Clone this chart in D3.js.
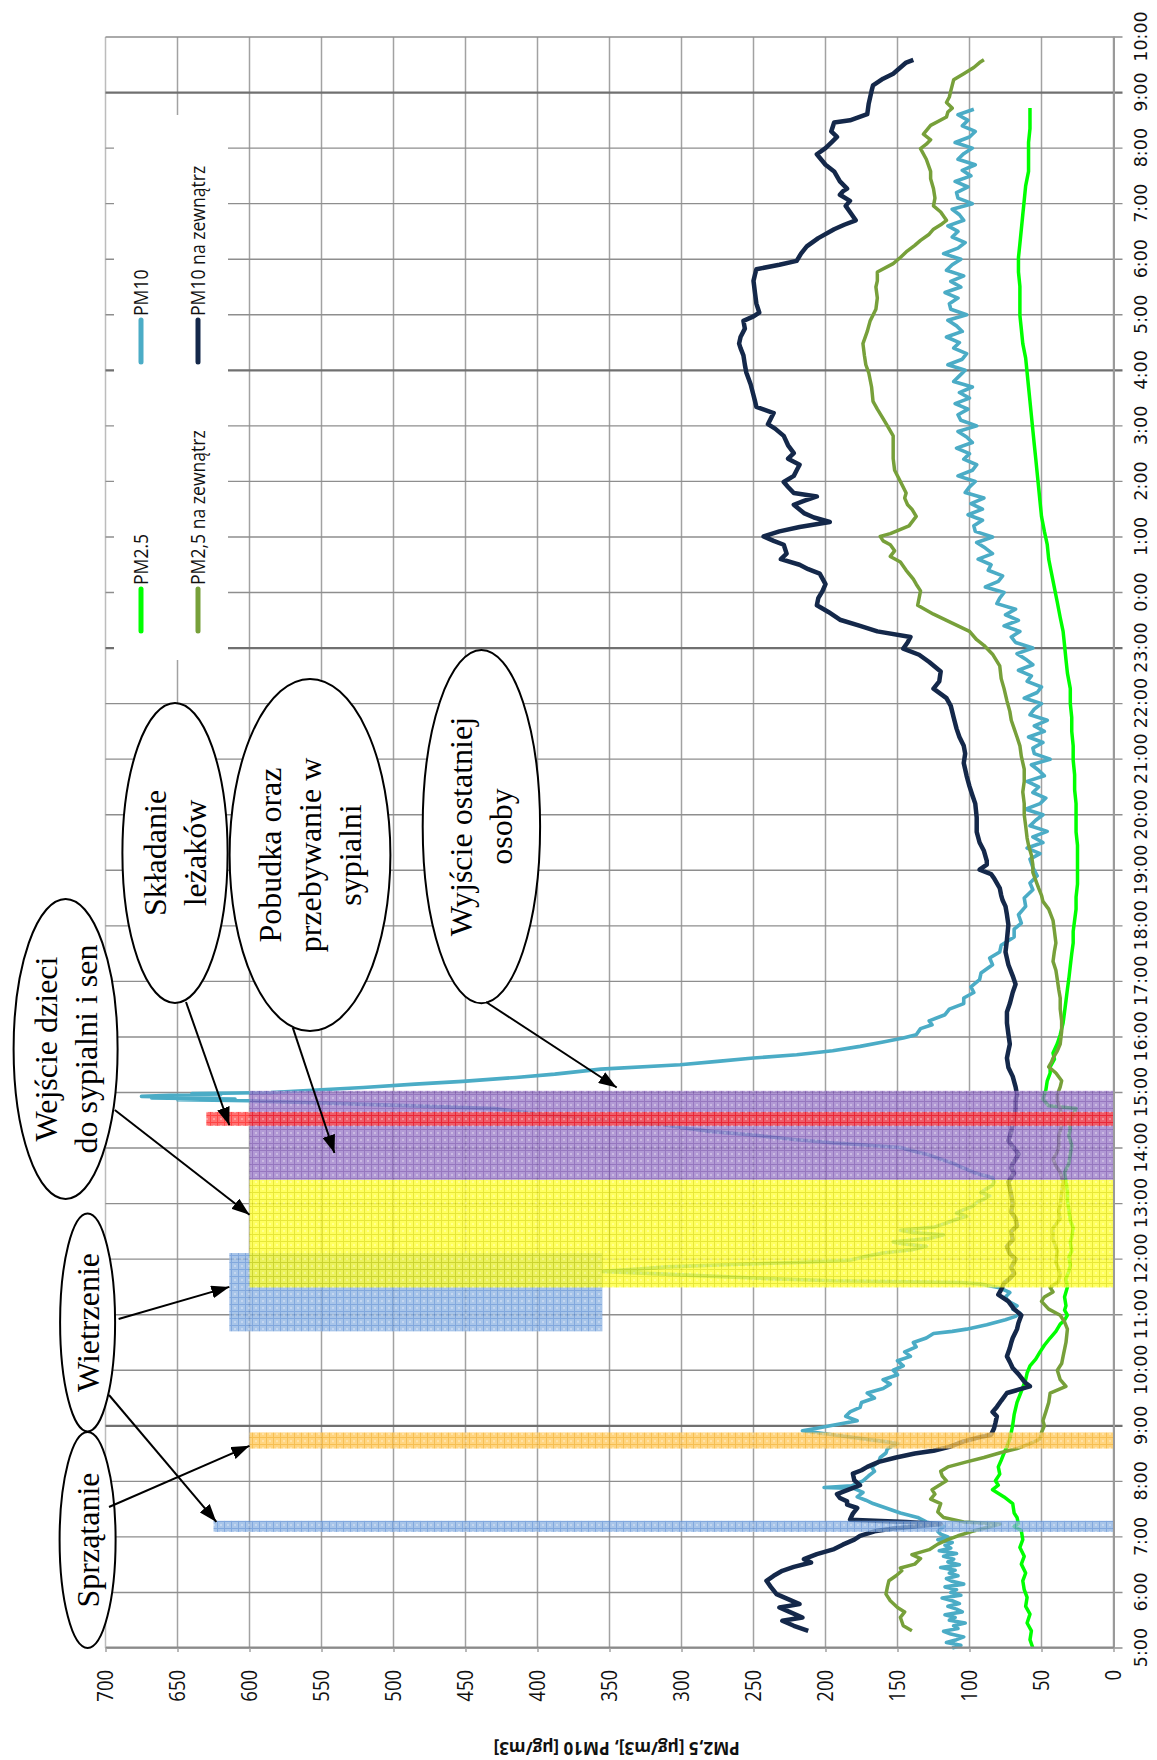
<!DOCTYPE html>
<html>
<head>
<meta charset="utf-8">
<script src="https://cdn.jsdelivr.net/npm/d3@7"></script>
<style>
  body { margin: 0; background: #fff; }
</style>
</head>
<body>
<div id="chart"></div>
<script>
// readings: [clock hour (24+ = next day), µg/m3]
var pm25 = [[5.0,56],[5.15,58],[5.31,57],[5.45,60],[5.61,58],[5.75,61],[5.91,60],[6.05,62],[6.21,63],[6.35,61],[6.51,64],[6.65,62],[6.81,65],[6.95,63],[7.11,64],[7.19,69],[7.23,66],[7.35,67],[7.43,69],[7.6,70],[7.72,76],[7.85,84],[7.93,80],[8.01,82],[8.13,79],[8.26,80],[8.38,78],[8.51,76],[8.63,74],[8.76,72],[8.88,71],[9.01,70],[9.2,69],[9.42,67],[9.62,64],[9.83,61],[9.95,60],[10.08,58],[10.2,54],[10.33,51],[10.45,48],[10.58,44],[10.7,40],[10.83,37],[10.9,34],[10.99,32],[11.08,34],[11.16,33],[11.32,34],[11.5,32],[11.65,33],[11.78,31],[11.9,30],[12.03,31],[12.15,29],[12.3,30],[12.4,29],[12.56,28],[12.7,30],[12.89,31],[13.05,32],[13.22,32],[13.4,33],[13.56,34],[13.72,31],[13.89,30],[14.05,29],[14.22,31],[14.35,30],[14.47,31],[14.6,28],[14.71,26],[14.76,45],[14.88,49],[15.04,47],[15.21,46],[15.35,44],[15.46,44],[15.6,41],[15.71,42],[15.88,39],[16.04,37],[16.25,35],[16.45,34],[16.65,33],[16.86,32],[17.05,31],[17.28,30],[17.5,29],[17.69,28],[17.9,28],[18.1,27],[18.3,26],[18.52,26],[18.75,25],[18.93,25],[19.17,25],[19.45,25],[19.69,26],[19.95,26],[20.2,26],[20.45,27],[20.72,27],[20.98,28],[21.24,28],[21.5,29],[21.75,29],[22.0,30],[22.27,30],[22.55,32],[22.79,33],[23.05,34],[23.3,35],[23.55,37],[23.82,39],[24.08,41],[24.34,43],[24.6,45],[24.86,46],[25.1,48],[25.37,50],[25.63,51],[25.89,52],[26.15,53],[26.41,54],[26.66,55],[26.92,56],[27.18,57],[27.44,58],[27.7,59],[27.96,60],[28.22,61],[28.48,63],[28.74,64],[28.99,65],[29.25,65],[29.51,65],[29.77,66],[30.03,66],[30.28,65],[30.54,64],[30.8,63],[31.06,62],[31.32,61],[31.58,59],[31.84,59],[32.1,59],[32.35,58],[32.61,58],[32.72,58]];

var pm10 = [[5.0,112],[5.05,106],[5.1,116],[5.15,109],[5.2,104],[5.25,113],[5.3,118],[5.35,108],[5.4,111],[5.45,103],[5.5,114],[5.55,110],[5.6,117],[5.65,105],[5.7,109],[5.75,115],[5.8,107],[5.85,112],[5.9,119],[5.95,106],[6.0,113],[6.05,109],[6.1,117],[6.15,104],[6.2,112],[6.25,116],[6.3,108],[6.35,114],[6.4,110],[6.45,120],[6.5,107],[6.55,115],[6.6,111],[6.65,118],[6.7,109],[6.75,121],[6.8,113],[6.85,117],[6.9,112],[6.95,122],[7.0,115],[7.05,120],[7.1,122],[7.19,118],[7.27,130],[7.35,136],[7.43,148],[7.52,158],[7.6,167],[7.66,172],[7.72,178],[7.8,174],[7.87,180],[7.89,201],[7.92,182],[8.01,174],[8.1,170],[8.18,166],[8.26,168],[8.35,163],[8.43,162],[8.51,158],[8.59,157],[8.68,150],[8.72,160],[8.76,172],[8.84,195],[8.91,216],[8.96,205],[9.01,195],[9.09,178],[9.17,186],[9.25,183],[9.33,176],[9.42,175],[9.5,166],[9.59,171],[9.67,160],[9.75,155],[9.83,160],[9.92,150],[10.0,153],[10.08,146],[10.17,150],[10.25,141],[10.33,145],[10.42,137],[10.5,139],[10.58,130],[10.66,125],[10.7,112],[10.74,102],[10.82,88],[10.91,75],[10.97,68],[11.03,65],[11.1,70],[11.16,67],[11.24,73],[11.32,75],[11.4,72],[11.49,80],[11.55,92],[11.58,105],[11.61,195],[11.66,250],[11.69,276],[11.74,320],[11.78,355],[11.82,330],[11.86,310],[11.9,270],[11.94,220],[11.98,183],[12.05,172],[12.11,160],[12.17,140],[12.23,130],[12.28,148],[12.31,153],[12.37,128],[12.44,118],[12.48,140],[12.52,148],[12.58,124],[12.65,116],[12.71,110],[12.77,102],[12.83,109],[12.89,104],[12.95,98],[13.02,95],[13.08,90],[13.14,86],[13.2,92],[13.27,88],[13.33,84],[13.39,83],[13.47,84],[13.52,92],[13.56,97],[13.64,104],[13.72,111],[13.8,120],[13.89,130],[13.95,140],[14.01,148],[14.05,170],[14.09,194],[14.15,220],[14.22,245],[14.3,280],[14.36,298],[14.42,312],[14.51,356],[14.6,395],[14.71,430],[14.8,534],[14.85,600],[14.87,650],[14.88,610],[14.9,668],[14.91,640],[14.93,675],[14.95,655],[14.96,620],[14.98,640],[15.0,585],[15.05,550],[15.09,521],[15.15,485],[15.2,452],[15.27,415],[15.33,388],[15.42,356],[15.5,301],[15.56,275],[15.62,250],[15.68,220],[15.75,195],[15.83,176],[15.91,160],[15.98,146],[16.04,137],[16.15,134],[16.22,126],[16.29,128],[16.4,117],[16.5,114],[16.6,104],[16.7,104],[16.8,97],[16.9,99],[17.03,93],[17.15,92],[17.3,84],[17.42,86],[17.53,79],[17.65,78],[17.8,69],[17.94,69],[18.05,64],[18.2,66],[18.35,61],[18.5,62],[18.65,56],[18.77,58],[18.9,53],[19.05,56]];

// PM10 overnight, logged every 6 minutes from 19:12
var pm10NightStart = 19.2, pm10NightStep = 0.1;
var pm10Night = [58,51,60,49,56,46,58,54,49,61,51,47,56,52,60,48,52,57,44,55,56,49,59,48,55,46,58,55,50,62,53,50,60,57,66,56,61,67,56,68,71,65,76,66,75,68,81,79,76,89,80,77,87,85,94,84,89,95,84,96,97,91,101,91,99,90,103,100,96,108,98,95,104,100,109,98,102,108,95,106,108,101,110,100,107,98,111,107,103,115,105,102,111,107,116,105,109,115,102,113,114,108,117,106,113,104,116,112,106,118,108,103,112,108,115,104,107,112,98,108,109,101,110,99,105,96,108,104,98,110,100,96,105,101,108,97];

var pm25Out = [[5.31,140],[5.4,146],[5.55,148],[5.65,145],[5.73,150],[5.85,155],[5.97,158],[6.1,157],[6.21,156],[6.3,151],[6.39,147],[6.44,148],[6.51,138],[6.61,134],[6.68,140],[6.77,128],[6.87,122],[6.94,116],[7.02,108],[7.1,98],[7.17,88],[7.23,79],[7.27,104],[7.35,118],[7.45,122],[7.6,120],[7.68,127],[7.77,124],[7.85,126],[8.01,116],[8.1,119],[8.18,120],[8.26,115],[8.35,102],[8.43,90],[8.52,78],[8.59,67],[8.68,58],[8.76,51],[8.88,50],[9.0,48],[9.09,49],[9.25,47],[9.42,45],[9.59,44],[9.71,33],[9.83,37],[10.0,39],[10.12,36],[10.25,35],[10.5,33],[10.74,32],[10.87,34],[10.99,37],[11.1,45],[11.24,50],[11.32,48],[11.41,42],[11.49,44],[11.6,38],[11.74,37],[11.95,40],[12.15,39],[12.35,42],[12.56,42],[12.73,37],[12.85,38],[12.98,37],[13.2,36],[13.39,35],[13.56,37],[13.68,40],[13.8,42],[13.93,39],[14.05,38],[14.22,38],[14.4,36],[14.55,36],[14.71,37],[14.85,39],[14.96,39],[15.1,37],[15.21,36],[15.35,40],[15.46,45],[15.55,43],[15.62,42],[15.75,39],[15.87,37],[16.1,36],[16.29,36],[16.5,37],[16.7,37],[16.85,38],[17.03,39],[17.2,40],[17.36,42],[17.55,41],[17.69,40],[17.9,41],[18.1,42],[18.3,45],[18.44,49],[18.55,50],[18.68,52],[18.82,54],[18.96,56],[19.1,56],[19.27,57],[19.45,59],[19.58,60],[19.8,61],[20.0,62],[20.2,62],[20.41,63],[20.6,62],[20.82,62],[21.05,64],[21.24,65],[21.4,67],[21.55,69],[21.7,71],[21.86,72],[22.05,74],[22.27,76],[22.45,78],[22.68,79],[22.89,84],[23.05,90],[23.15,95],[23.3,100],[23.45,112],[23.61,125],[23.77,136],[23.9,135],[24.03,134],[24.15,137],[24.24,139],[24.4,144],[24.55,148],[24.65,155],[24.75,152],[24.86,155],[24.93,160],[25.01,162],[25.06,155],[25.2,142],[25.37,137],[25.5,140],[25.58,143],[25.7,145],[25.79,144],[26.0,148],[26.2,152],[26.41,153],[26.6,153],[26.82,153],[27.0,157],[27.13,160],[27.3,164],[27.44,167],[27.7,168],[27.96,170],[28.1,172],[28.27,173],[28.48,174],[28.7,171],[28.89,169],[29.1,165],[29.3,164],[29.5,165],[29.61,164],[29.77,164],[29.92,153],[30.03,148],[30.13,144],[30.25,138],[30.34,134],[30.45,128],[30.54,125],[30.62,120],[30.7,116],[30.85,120],[30.96,125],[31.1,124],[31.27,125],[31.45,127],[31.58,127],[31.8,130],[31.99,134],[32.07,130],[32.15,127],[32.25,132],[32.41,127],[32.56,116],[32.65,115],[32.72,112],[32.82,116],[32.92,114],[33.03,113],[33.13,112],[33.23,111],[33.34,104],[33.45,97],[33.54,93],[33.59,90]];

var pm10Out = [[5.31,212],[5.4,222],[5.49,230],[5.55,216],[5.65,225],[5.73,232],[5.79,218],[5.88,226],[5.97,234],[6.1,238],[6.21,241],[6.3,236],[6.39,230],[6.46,222],[6.54,210],[6.6,215],[6.69,206],[6.78,194],[6.86,188],[6.95,180],[7.02,176],[7.1,166],[7.15,153],[7.23,120],[7.27,144],[7.31,183],[7.42,181],[7.52,178],[7.58,185],[7.64,185],[7.7,190],[7.77,192],[7.85,184],[7.93,176],[8.02,180],[8.14,181],[8.2,175],[8.26,171],[8.35,163],[8.43,151],[8.5,138],[8.55,125],[8.62,114],[8.72,104],[8.8,92],[8.84,85],[8.95,83],[9.05,82],[9.17,81],[9.25,84],[9.34,81],[9.45,78],[9.59,74],[9.65,66],[9.71,58],[9.77,61],[9.83,63],[9.93,66],[10.04,70],[10.15,72],[10.25,74],[10.4,72],[10.5,71],[10.58,70],[10.74,67],[10.85,66],[10.99,64],[11.1,69],[11.24,73],[11.36,80],[11.45,78],[11.57,76],[11.65,72],[11.74,69],[11.85,71],[12.0,68],[12.1,72],[12.23,74],[12.35,70],[12.5,71],[12.6,67],[12.73,68],[12.85,71],[13.0,70],[13.15,71],[13.28,72],[13.39,73],[13.47,71],[13.55,69],[13.64,71],[13.72,70],[13.8,68],[13.89,66],[14.0,69],[14.13,73],[14.3,71],[14.45,70],[14.55,69],[14.7,68],[14.85,68],[14.96,67],[15.1,68],[15.29,70],[15.45,73],[15.62,74],[15.75,73],[15.87,72],[16.05,73],[16.25,74],[16.45,74],[16.6,72],[16.8,70],[16.95,68],[17.1,70],[17.3,73],[17.53,75],[17.75,74],[18.02,73],[18.2,74],[18.35,75],[18.46,77],[18.55,78],[18.68,79],[18.86,83],[18.93,85],[19.01,93],[19.1,88],[19.17,88],[19.35,90],[19.5,93],[19.69,95],[19.95,95],[20.2,96],[20.35,98],[20.51,100],[20.7,102],[20.93,104],[21.1,103],[21.24,104],[21.4,107],[21.55,109],[21.75,111],[21.96,113],[22.1,116],[22.27,125],[22.4,121],[22.58,120],[22.75,128],[22.88,135],[22.99,146],[23.1,143],[23.2,141],[23.3,164],[23.4,176],[23.51,190],[23.65,198],[23.77,206],[23.9,205],[24.03,202],[24.15,200],[24.34,204],[24.42,212],[24.5,218],[24.6,231],[24.7,227],[24.86,229],[24.93,236],[25.01,243],[25.1,232],[25.18,218],[25.27,197],[25.35,208],[25.43,215],[25.58,222],[25.65,215],[25.73,206],[25.79,222],[25.9,226],[25.99,229],[26.1,222],[26.2,220],[26.3,218],[26.41,226],[26.51,222],[26.65,226],[26.82,229],[26.95,235],[27.03,240],[27.13,238],[27.23,236],[27.34,248],[27.45,249],[27.55,250],[27.75,252],[27.96,255],[28.1,256],[28.27,257],[28.4,259],[28.48,260],[28.6,259],[28.75,256],[28.89,257],[28.97,250],[29.04,246],[29.2,248],[29.4,249],[29.61,250],[29.72,249],[29.82,248],[29.9,232],[29.97,220],[30.1,217],[30.23,213],[30.38,205],[30.54,194],[30.62,187],[30.7,179],[30.85,183],[30.96,186],[31.05,183],[31.16,190],[31.22,188],[31.27,185],[31.4,190],[31.58,194],[31.7,200],[31.89,206],[32.0,200],[32.1,196],[32.2,192],[32.3,196],[32.46,194],[32.5,183],[32.61,171],[32.8,170],[33.03,168],[33.13,167],[33.25,160],[33.34,153],[33.45,148],[33.54,144],[33.59,139]];

var seriesNames = ['PM2.5', 'PM10', 'PM2,5 na zewnątrz', 'PM10 na zewnątrz'];

// shaded periods (clock hours) and their reach on the value axis
var periodStart = [7.09, 8.59, 10.70, 11.49, 13.43, 14.40];
var periodEnd   = [7.29, 8.88, 12.11, 13.43, 15.03, 14.65];
var periodLow   = [0, 0, 355, 0, 0, 0];
var periodHigh  = [625, 600, 614, 600, 600, 630];

var hourTicks = d3.range(5, 35);
var valueTicks = d3.range(0, 701, 50);
var darkHours = [9, 23, 28, 33];

// callouts and the [hour, value] each arrow points at
var noteText = [['Wejście dzieci', 'do sypialni i sen'], ['Wietrzenie'], ['Sprzątanie'], ['Składanie', 'leżaków'], ['Pobudka oraz', 'przebywanie w', 'sypialni'], ['Wyjście ostatniej', 'osoby']];
var noteTargets = [[[12.8, 600]], [[11.5, 614], [7.27, 623]], [[8.64, 600]], [[14.41, 614]], [[13.91, 541]], [[15.09, 345]]];

var width = 1157, height = 1760;

var svg = d3.select('#chart').append('svg')
    .attr('width', width)
    .attr('height', height)
    .style('background', '#fff');

var defs = svg.append('defs');
var bandColors = [['#8fb4e3', '#5f8fd3'], ['#ffc95c', '#f4ad22'], ['#8fb4e3', '#5f8fd3'], ['#ffff33', '#e0e000'], ['#9c7dc9', '#7850ad'], ['#ff4a4a', '#ff1010']];
bandColors.forEach(function (c, i) {
  var p = defs.append('pattern').attr('id', 'band' + i)
      .attr('width', 7).attr('height', 7).attr('patternUnits', 'userSpaceOnUse');
  p.append('rect').attr('width', 7).attr('height', 7).attr('fill', c[0]);
  p.append('path').attr('d', 'M0,0.5H7M0.5,0V7').attr('stroke', c[1]).attr('stroke-width', 1);
  p.append('circle').attr('cx', 4).attr('cy', 4).attr('r', 0.8).attr('fill', '#fff').attr('opacity', 0.7);
});
defs.append('marker').attr('id', 'arrow')
    .attr('viewBox', '0 0 10 10').attr('refX', 10).attr('refY', 5)
    .attr('markerWidth', 18).attr('markerHeight', 13)
    .attr('markerUnits', 'userSpaceOnUse').attr('orient', 'auto')
    .attr('preserveAspectRatio', 'none')
  .append('path').attr('d', 'M0,0L10,5L0,10z').attr('fill', '#000');

// the chart is laid out landscape and turned a quarter to the left
var chart = svg.append('g').attr('transform', 'translate(0,' + height + ') rotate(-90)');

var x = d3.scaleLinear().domain([5, 34]).range([112, 1723]);
var y = d3.scaleLinear().domain([0, 700]).range([1113.5, 105.5]);

chart.append('g').selectAll('line')
    .data(valueTicks)
    .enter().append('line')
    .attr('x1', x(5)).attr('x2', x(34))
    .attr('y1', d => y(d)).attr('y2', d => y(d))
    .attr('stroke', d => d == 700 ? '#bcbcbc' : '#a2a2a2')
    .attr('stroke-width', 1.5);

chart.append('g').selectAll('line')
    .data(hourTicks)
    .enter().append('line')
    .attr('x1', d => x(d)).attr('x2', d => x(d))
    .attr('y1', y(700)).attr('y2', y(0) + 9)
    .attr('stroke', d => darkHours.indexOf(d) >= 0 ? '#707070' : '#8e8e8e')
    .attr('stroke-width', d => darkHours.indexOf(d) >= 0 ? 2.2 : 1.4);

// legend
var legend = chart.append('g');
legend.append('rect')
    .attr('x', 1100).attr('y', 114).attr('width', 545).attr('height', 114)
    .attr('fill', '#fff');
var lineColors = ['#00ff00', '#4bacc6', '#77a03a', '#14284a'];
seriesNames.forEach(function (name, i) {
  var lx = i % 2 == 0 ? 1129 : 1398, ly = i < 2 ? 141 : 198;
  legend.append('line')
      .attr('x1', lx).attr('x2', lx + 42).attr('y1', ly).attr('y2', ly)
      .attr('stroke', lineColors[i]).attr('stroke-width', 5).attr('stroke-linecap', 'round');
  legend.append('text')
      .attr('transform', 'translate(' + (lx + 46) + ',' + ly + ') scale(0.88,1)')
      .attr('dy', '0.36em')
      .attr('font-family', 'Open Sans').attr('font-size', 20).attr('fill', '#111')
      .text(name);
});

var pm10All = pm10.concat(pm10Night.map((v, i) => [pm10NightStart + i * pm10NightStep, v]));

var line = d3.line().x(d => x(d[0])).y(d => y(d[1]));
var series = [pm10All, pm25, pm25Out, pm10Out];
var seriesColor = ['#4bacc6', '#00ff00', '#77a03a', '#14284a'];
var seriesWidth = [3.6, 3.5, 3.5, 4.5];
chart.append('g').selectAll('path')
    .data(series)
    .enter().append('path')
    .attr('d', line)
    .attr('fill', 'none')
    .attr('stroke', (d, i) => seriesColor[i])
    .attr('stroke-width', (d, i) => seriesWidth[i])
    .attr('stroke-linejoin', 'round');

chart.append('g').selectAll('rect')
    .data(d3.range(periodStart.length))
    .enter().append('rect')
    .attr('x', i => x(periodStart[i]))
    .attr('width', i => x(periodEnd[i]) - x(periodStart[i]))
    .attr('y', i => y(periodHigh[i]))
    .attr('height', i => y(periodLow[i]) - y(periodHigh[i]))
    .attr('fill', i => 'url(#band' + i + ')')
    .attr('opacity', 0.78);

var timeAxis = chart.append('g')
    .attr('transform', 'translate(0,' + y(0) + ')')
    .call(d3.axisBottom(x).tickValues(hourTicks).tickFormat(d => (d % 24) + ':00').tickSize(0).tickPadding(21));
timeAxis.select('.domain').attr('stroke', '#9a9a9a').attr('stroke-width', 2);
timeAxis.selectAll('text')
    .attr('font-family', 'DejaVu Sans').attr('font-size', 17.5).attr('fill', '#111');

var valueAxis = chart.append('g')
    .attr('transform', 'translate(' + x(5) + ',0)')
    .call(d3.axisLeft(y).tickValues(valueTicks).tickSize(4).tickSizeOuter(0));
valueAxis.select('.domain').attr('stroke', '#8a8a8a').attr('stroke-width', 2);
valueAxis.selectAll('.tick line').attr('stroke', '#a2a2a2').attr('stroke-width', 1.5);
valueAxis.selectAll('text')
    .attr('x', -25).attr('transform', 'scale(0.88,1)')
    .attr('font-family', 'Open Sans').attr('font-size', 21).attr('fill', '#111');

chart.append('text')
    .attr('transform', 'translate(12,' + y(345) + ') rotate(-90)')
    .attr('text-anchor', 'middle').attr('dy', '0.35em')
    .attr('font-family', 'Open Sans').attr('font-weight', 'bold').attr('font-size', 17)
    .attr('fill', '#111')
    .text('PM2,5 [µg/m3], PM10 [µg/m3]');

// callout layout in page coordinates: ellipse [cx, cy, rx, ry] and arrow starts
var noteBox = [[65.6, 1049, 52, 150], [87.6, 1322.5, 27.5, 109], [87.6, 1540, 28, 108], [175, 853, 52.6, 150], [310, 855, 80.4, 176], [481.4, 826.6, 58.7, 176.6]];
var noteFrom = [[[114.8, 1110]], [[118.6, 1319], [109, 1395]], [[109, 1507]], [[186, 1002]], [[292.8, 1027.6]], [[486, 1002]]];

var notes = svg.append('g');
noteText.forEach(function (lines, i) {
  var b = noteBox[i];
  notes.append('ellipse')
      .attr('cx', b[0]).attr('cy', b[1]).attr('rx', b[2]).attr('ry', b[3])
      .attr('fill', '#fff').attr('stroke', '#000').attr('stroke-width', 2);
  var t = notes.append('text')
      .attr('transform', 'translate(' + b[0] + ',' + b[1] + ') rotate(-90)')
      .attr('text-anchor', 'middle')
      .attr('font-family', 'Liberation Serif').attr('font-size', 32).attr('fill', '#000');
  lines.forEach(function (s, j) {
    t.append('tspan').attr('x', 0).attr('y', (j - (lines.length - 1) / 2) * 40 + 11).text(s);
  });
});
noteText.forEach(function (lines, i) {
  noteFrom[i].forEach(function (f, k) {
    var tgt = noteTargets[i][k];
    notes.append('line')
        .attr('x1', f[0]).attr('y1', f[1])
        .attr('x2', y(tgt[1])).attr('y2', height - x(tgt[0]))
        .attr('stroke', '#000').attr('stroke-width', 2)
        .attr('marker-end', 'url(#arrow)');
  });
});
</script>
</body>
</html>
